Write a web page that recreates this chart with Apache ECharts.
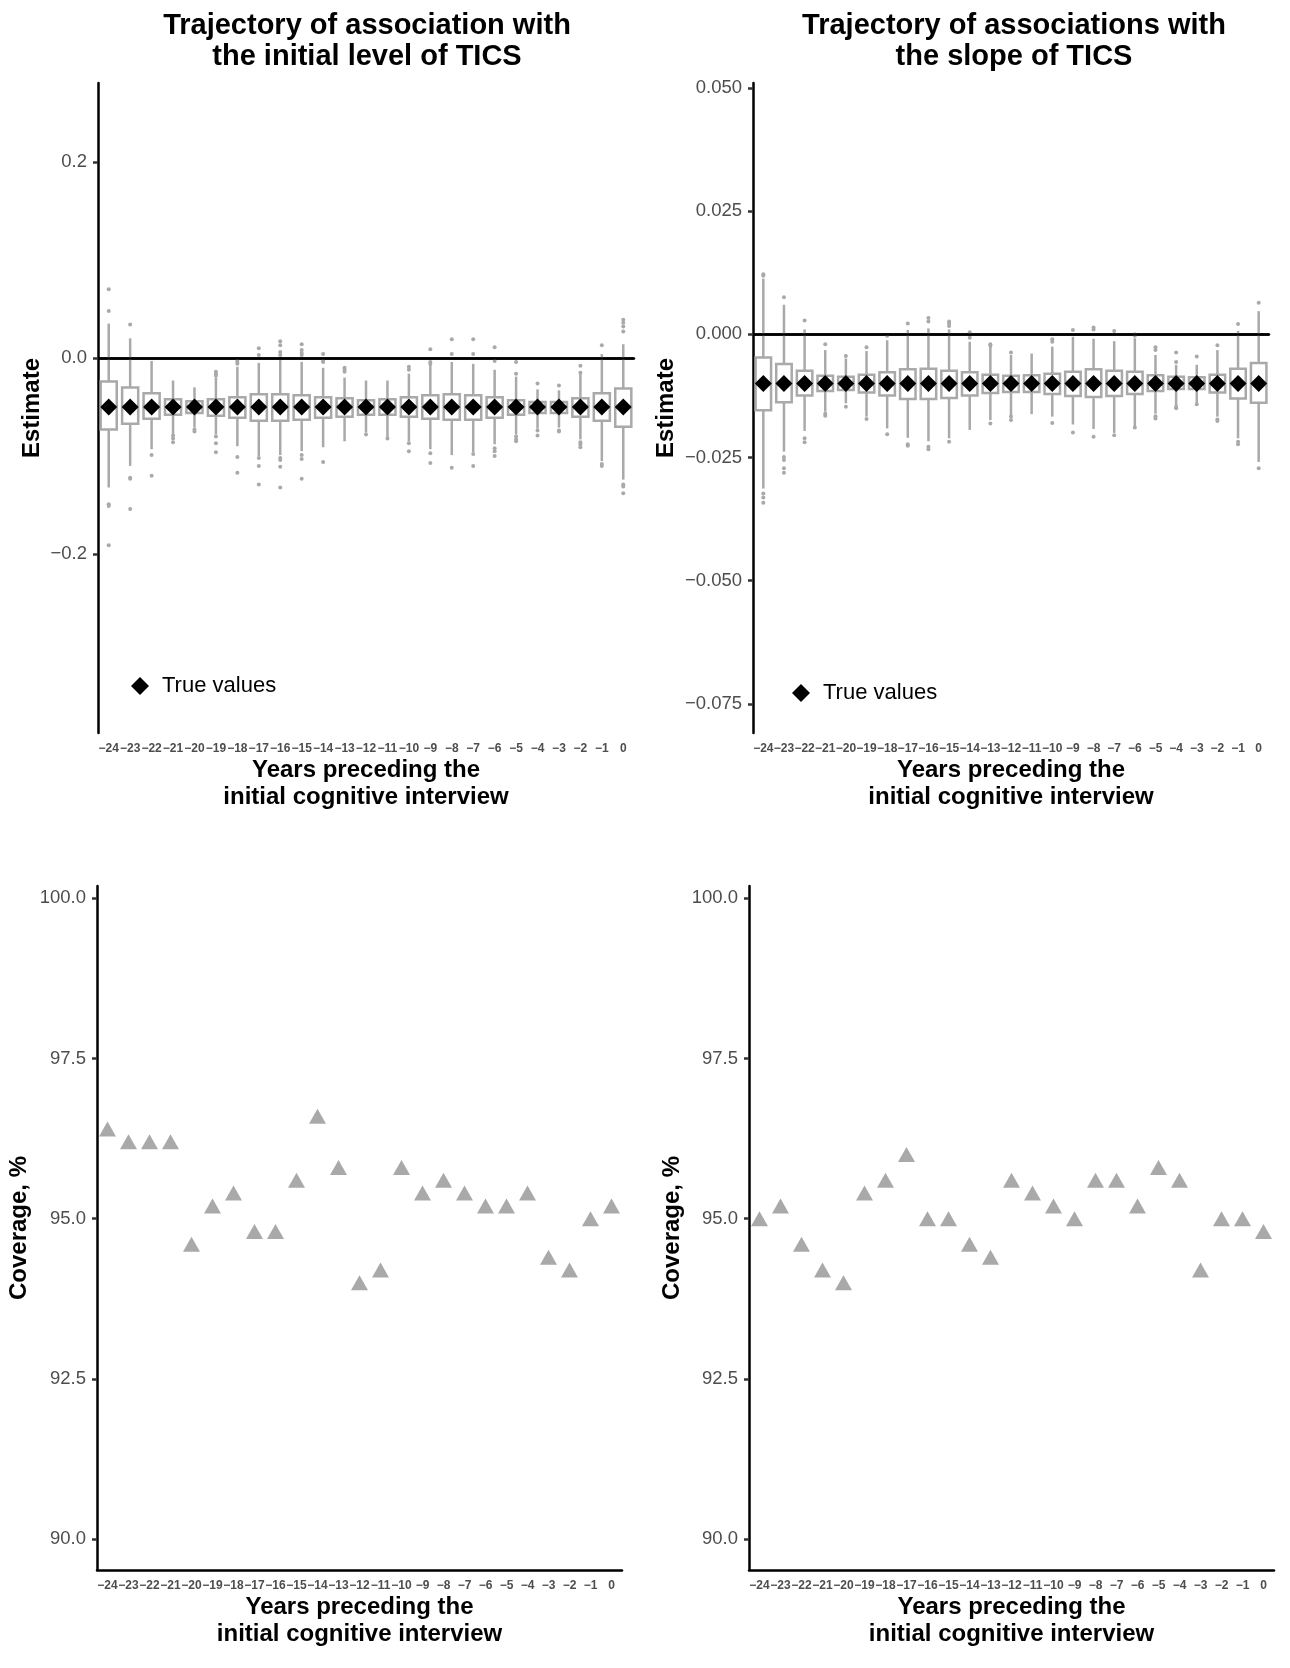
<!DOCTYPE html>
<html>
<head>
    <meta charset="utf-8">
    <title>TICS trajectories</title>
    <script src="https://cdn.jsdelivr.net/npm/echarts@6/dist/echarts.min.js"></script>
    <style>
        body { margin: 0; background: #fff; }
    </style>
</head>
<body>
<div id="main" style="width: 1290px;height: 1668px;"></div>
<script type="text/javascript">

    // x categories (years preceding the initial cognitive interview)
    var years = ['−24', '−23', '−22', '−21', '−20', '−19', '−18', '−17', '−16', '−15', '−14', '−13',
        '−12', '−11', '−10', '−9', '−8', '−7', '−6', '−5', '−4', '−3', '−2', '−1', '0'];

    // panel 1: association with the initial level of TICS (box stats)
    var initLo = [-0.132, -0.110, -0.093, -0.078, -0.071, -0.078, -0.090, -0.100, -0.099, -0.095, -0.091, -0.085,
        -0.076, -0.081, -0.085, -0.093, -0.099, -0.096, -0.088, -0.078, -0.072, -0.071, -0.083, -0.105, -0.124];
    var initQ1 = [-0.073, -0.067, -0.062, -0.058, -0.056, -0.059, -0.061, -0.064, -0.064, -0.063, -0.061, -0.060,
        -0.058, -0.058, -0.060, -0.062, -0.063, -0.063, -0.061, -0.058, -0.056, -0.056, -0.060, -0.064, -0.070];
    var initMed = [-0.050, -0.050, -0.050, -0.050, -0.050, -0.050, -0.050, -0.050, -0.050, -0.050, -0.050, -0.050,
        -0.050, -0.050, -0.050, -0.050, -0.050, -0.050, -0.050, -0.050, -0.050, -0.050, -0.050, -0.050, -0.050];
    var initQ3 = [-0.024, -0.030, -0.036, -0.042, -0.044, -0.042, -0.040, -0.037, -0.037, -0.038, -0.040, -0.041,
        -0.043, -0.042, -0.040, -0.038, -0.037, -0.038, -0.040, -0.043, -0.045, -0.045, -0.041, -0.036, -0.031];
    var initHi = [0.035, 0.020, -0.003, -0.023, -0.030, -0.020, -0.009, -0.005, -0.002, -0.004, -0.010, -0.020,
        -0.023, -0.023, -0.016, -0.007, -0.004, -0.006, -0.012, -0.019, -0.032, -0.033, -0.016, 0.004, 0.014];
    var initOut = [
        [0.070, 0.048, -0.149, -0.151, -0.191],
        [0.034, -0.122, -0.123, -0.154],
        [-0.099, -0.120],
        [-0.079, -0.082, -0.086],
        [-0.073, -0.075],
        [-0.014, -0.016, -0.018, -0.080, -0.087, -0.096],
        [-0.002, -0.004, -0.006, -0.101, -0.117],
        [0.010, 0.003, -0.102, -0.110, -0.129],
        [0.017, 0.013, 0.006, 0.003, -0.102, -0.104, -0.111, -0.132],
        [0.014, 0.008, 0.005, 0.003, -0.099, -0.103, -0.123],
        [0.004, -0.003, -0.004, -0.106],
        [-0.010, -0.012, -0.014],
        [-0.078],
        [-0.082],
        [-0.009, -0.012, -0.087, -0.095],
        [0.009, -0.004, -0.006, -0.097, -0.107],
        [0.019, 0.004, -0.112],
        [0.019, 0.004, -0.098, -0.110],
        [0.011, -0.003, -0.092, -0.095, -0.100],
        [-0.004, -0.016, -0.080, -0.083, -0.085],
        [-0.026, -0.074, -0.079],
        [-0.028, -0.074, -0.075],
        [-0.008, -0.015, -0.086, -0.088, -0.091],
        [0.013, -0.108, -0.110],
        [0.039, 0.036, 0.032, 0.027, -0.129, -0.131, -0.138]
    ];
    var initTrue = [-0.05, -0.05, -0.05, -0.05, -0.05, -0.05, -0.05, -0.05, -0.05, -0.05, -0.05, -0.05,
        -0.05, -0.05, -0.05, -0.05, -0.05, -0.05, -0.05, -0.05, -0.05, -0.05, -0.05, -0.05, -0.05];

    // panel 2: association with the slope of TICS
    var slopeLo = [-0.0313, -0.0238, -0.0196, -0.0157, -0.0140, -0.0167, -0.0191, -0.0210, -0.0217, -0.0211, -0.0194, -0.0174,
        -0.0164, -0.0162, -0.0167, -0.0183, -0.0192, -0.0200, -0.0186, -0.0161, -0.0144, -0.0140, -0.0167, -0.0211, -0.0259];
    var slopeQ1 = [-0.0154, -0.0138, -0.0124, -0.0115, -0.0113, -0.0118, -0.0124, -0.0131, -0.0131, -0.0129, -0.0124, -0.0119,
        -0.0117, -0.0117, -0.0121, -0.0125, -0.0127, -0.0125, -0.0121, -0.0115, -0.0111, -0.0111, -0.0118, -0.0130, -0.0139];
    var slopeMed = [-0.010, -0.010, -0.010, -0.010, -0.010, -0.010, -0.010, -0.010, -0.010, -0.010, -0.010, -0.010,
        -0.010, -0.010, -0.010, -0.010, -0.010, -0.010, -0.010, -0.010, -0.010, -0.010, -0.010, -0.010, -0.010];
    var slopeQ3 = [-0.0047, -0.0060, -0.0074, -0.0084, -0.0086, -0.0082, -0.0077, -0.0071, -0.0070, -0.0074, -0.0077, -0.0082,
        -0.0084, -0.0083, -0.0080, -0.0076, -0.0071, -0.0074, -0.0076, -0.0083, -0.0086, -0.0087, -0.0082, -0.0070, -0.0058];
    var slopeHi = [0.0113, 0.0060, 0.0010, -0.0032, -0.0049, -0.0034, -0.0012, 0.0009, 0.0012, 0.0010, -0.0015, -0.0025,
        -0.0042, -0.0039, -0.0025, -0.0005, -0.0009, -0.0014, -0.0008, -0.0042, -0.0062, -0.0062, -0.0032, 0.0007, 0.0047];
    var slopeOut = [
        [0.0122, 0.0119, -0.0323, -0.0331, -0.0342],
        [0.0075, -0.0249, -0.0255, -0.0272, -0.0281],
        [0.0028, -0.0211, -0.0219],
        [-0.0020, -0.0161, -0.0165],
        [-0.0044, -0.0147],
        [-0.0026, -0.0172],
        [-0.0003, -0.0203],
        [0.0022, -0.0223, -0.0226],
        [0.0033, 0.0026, -0.0228, -0.0233],
        [0.0026, 0.0022, 0.0017, -0.0218],
        [0.0004, -0.0007],
        [-0.0020, -0.0023, -0.0181],
        [-0.0037, -0.0167, -0.0174],
        [],
        [-0.0010, -0.0015, -0.0180],
        [0.0009, -0.0199],
        [0.0014, 0.0010, -0.0208],
        [0.0007, -0.0205],
        [0.0000, -0.0003, -0.0189],
        [-0.0026, -0.0032, -0.0166, -0.0171],
        [-0.0037, -0.0056, -0.0147, -0.0150],
        [-0.0045, -0.0142],
        [-0.0022, -0.0173, -0.0176],
        [0.0021, -0.0218, -0.0223],
        [0.0064, -0.0272]
    ];
    var slopeTrue = [-0.01, -0.01, -0.01, -0.01, -0.01, -0.01, -0.01, -0.01, -0.01, -0.01, -0.01, -0.01,
        -0.01, -0.01, -0.01, -0.01, -0.01, -0.01, -0.01, -0.01, -0.01, -0.01, -0.01, -0.01, -0.01];

    // coverage, %
    var covInit = [96.4, 96.2, 96.2, 96.2, 94.6, 95.2, 95.4, 94.8, 94.8, 95.6, 96.6, 95.8,
        94.0, 94.2, 95.8, 95.4, 95.6, 95.4, 95.2, 95.2, 95.4, 94.4, 94.2, 95.0, 95.2];
    var covSlope = [95.0, 95.2, 94.6, 94.2, 94.0, 95.4, 95.6, 96.0, 95.0, 95.0, 94.6, 94.4,
        95.6, 95.4, 95.2, 95.0, 95.6, 95.6, 95.2, 95.8, 95.6, 94.2, 95.0, 95.0, 94.8];

    // tick values
    var initTicks = [-0.2, 0, 0.2];
    var slopeTicks = [-0.075, -0.05, -0.025, 0, 0.025, 0.05];
    var covTicks = [90, 92.5, 95, 97.5, 100];

    var FONT = '"Liberation Sans", Arial, sans-serif';
    var GREY = '#a9a9a9';

    var myChart = echarts.init(document.getElementById('main'));

    function boxRows(lo, q1, med, q3, hi) {
        return lo.map(function (v, i) { return [i, v, q1[i], med[i], q3[i], hi[i]]; });
    }
    function outRows(out) {
        var rows = [];
        out.forEach(function (list, i) {
            list.forEach(function (v) { rows.push([i, v]); });
        });
        return rows;
    }

    // ggplot-like box without whisker caps
    function renderBox(params, api) {
        var x = api.value(0);
        var lo = api.coord([x, api.value(1)]);
        var q1 = api.coord([x, api.value(2)]);
        var md = api.coord([x, api.value(3)]);
        var q3 = api.coord([x, api.value(4)]);
        var hi = api.coord([x, api.value(5)]);
        var w = api.size([1, 0])[0] * 0.75;
        var ls = {stroke: GREY, lineWidth: 2.5};
        return {
            type: 'group',
            children: [
                {type: 'line', shape: {x1: hi[0], y1: hi[1], x2: q3[0], y2: q3[1]}, style: ls},
                {type: 'line', shape: {x1: q1[0], y1: q1[1], x2: lo[0], y2: lo[1]}, style: ls},
                {type: 'rect', shape: {x: q3[0] - w / 2, y: q3[1], width: w, height: q1[1] - q3[1]},
                    style: {fill: '#fff', stroke: GREY, lineWidth: 2.5}},
                {type: 'line', shape: {x1: md[0] - w / 2, y1: md[1], x2: md[0] + w / 2, y2: md[1]},
                    style: {stroke: GREY, lineWidth: 4}}
            ]
        };
    }

    function minusFmt(dec) {
        return function (v) {
            var s = Math.abs(v).toFixed(dec);
            return v < 0 ? '−' + s : s;
        };
    }

    function xAxisOpt(gi) {
        return {
            type: 'category', gridIndex: gi, data: years, boundaryGap: true,
            name: 'Years preceding the\ninitial cognitive interview',
            nameLocation: 'middle', nameGap: 24,
            nameTextStyle: {fontSize: 24, fontWeight: 'bold', color: '#000', lineHeight: 27, fontFamily: FONT},
            axisLine: {lineStyle: {color: '#000', width: 2.5}},
            axisTick: {alignWithLabel: true, length: 5, lineStyle: {color: '#333', width: 2.5}},
            axisLabel: {interval: 0, hideOverlap: false, fontSize: 12, fontWeight: 'bold', color: '#4d4d4d',
                margin: 10, fontFamily: FONT},
            splitLine: {show: false}
        };
    }

    function yAxisOpt(gi, name, min, max, ticks, dec, gap) {
        return {
            type: 'value', gridIndex: gi, min: min, max: max,
            name: name, nameLocation: 'middle', nameGap: gap,
            nameTextStyle: {fontSize: 24, fontWeight: 'bold', color: '#000', fontFamily: FONT},
            axisLine: {show: true, lineStyle: {color: '#000', width: 2.5}},
            axisTick: {show: true, length: 5, customValues: ticks, lineStyle: {color: '#333', width: 2.5}},
            axisLabel: {customValues: ticks, formatter: minusFmt(dec), fontSize: 18.5, color: '#4d4d4d',
                margin: 11, fontFamily: FONT},
            splitLine: {show: false}
        };
    }

    function legendOpt(left, top) {
        return {
            data: ['True values'], left: left, top: top, padding: 0, icon: 'diamond',
            itemWidth: 18, itemHeight: 18, selectedMode: false,
            itemStyle: {opacity: 1},
            textStyle: {fontSize: 22, color: '#000', fontFamily: FONT, padding: [0, 0, 0, 8]}
        };
    }

    var zeroLine = {
        silent: true, symbol: 'none', label: {show: false},
        lineStyle: {color: '#000', width: 2.5, type: 'solid', opacity: 1},
        data: [{yAxis: 0}]
    };

    var titleStyle = {fontSize: 29, fontWeight: 'bold', color: '#000', lineHeight: 31, fontFamily: FONT};

    myChart.setOption({
        animation: false,
        backgroundColor: '#fff',
        textStyle: {fontFamily: FONT},
        title: [
            {text: 'Trajectory of association with\nthe initial level of TICS', left: 362, top: 5,
                textAlign: 'center', textStyle: titleStyle},
            {text: 'Trajectory of associations with\nthe slope of TICS', left: 1009, top: 5,
                textAlign: 'center', textStyle: titleStyle}
        ],
        legend: [legendOpt(131, 675), legendOpt(792, 682)],
        grid: [
            {left: 98, top: 83, width: 536, height: 650},
            {left: 753, top: 83, width: 516, height: 650},
            {left: 97, top: 886, width: 525, height: 684},
            {left: 749, top: 886, width: 525, height: 684}
        ],
        xAxis: [xAxisOpt(0), xAxisOpt(1), xAxisOpt(2), xAxisOpt(3)],
        yAxis: [
            yAxisOpt(0, 'Estimate', -0.3823, 0.2803, initTicks, 1, 54),
            yAxisOpt(1, 'Estimate', -0.0809, 0.051, slopeTicks, 3, 75),
            yAxisOpt(2, 'Coverage, %', 89.52, 100.19, covTicks, 1, 66),
            yAxisOpt(3, 'Coverage, %', 89.52, 100.19, covTicks, 1, 65)
        ],
        series: [
            {type: 'custom', xAxisIndex: 0, yAxisIndex: 0, renderItem: renderBox,
                encode: {x: 0, y: [1, 2, 3, 4, 5]}, data: boxRows(initLo, initQ1, initMed, initQ3, initHi), z: 2},
            {type: 'scatter', xAxisIndex: 0, yAxisIndex: 0, data: outRows(initOut), symbolSize: 4,
                itemStyle: {color: GREY, opacity: 1}, z: 3},
            {name: 'True values', type: 'scatter', xAxisIndex: 0, yAxisIndex: 0, data: initTrue,
                symbol: 'diamond', symbolSize: 17, itemStyle: {color: '#000', opacity: 1}, z: 5, markLine: zeroLine},

            {type: 'custom', xAxisIndex: 1, yAxisIndex: 1, renderItem: renderBox,
                encode: {x: 0, y: [1, 2, 3, 4, 5]}, data: boxRows(slopeLo, slopeQ1, slopeMed, slopeQ3, slopeHi), z: 2},
            {type: 'scatter', xAxisIndex: 1, yAxisIndex: 1, data: outRows(slopeOut), symbolSize: 4,
                itemStyle: {color: GREY, opacity: 1}, z: 3},
            {name: 'True values', type: 'scatter', xAxisIndex: 1, yAxisIndex: 1, data: slopeTrue,
                symbol: 'diamond', symbolSize: 17, itemStyle: {color: '#000', opacity: 1}, z: 5, markLine: zeroLine},

            {type: 'scatter', xAxisIndex: 2, yAxisIndex: 2, data: covInit, symbol: 'triangle',
                symbolSize: [17, 15], itemStyle: {color: GREY, opacity: 1}},
            {type: 'scatter', xAxisIndex: 3, yAxisIndex: 3, data: covSlope, symbol: 'triangle',
                symbolSize: [17, 15], itemStyle: {color: GREY, opacity: 1}}
        ]
    });
</script>
</body>
</html>
